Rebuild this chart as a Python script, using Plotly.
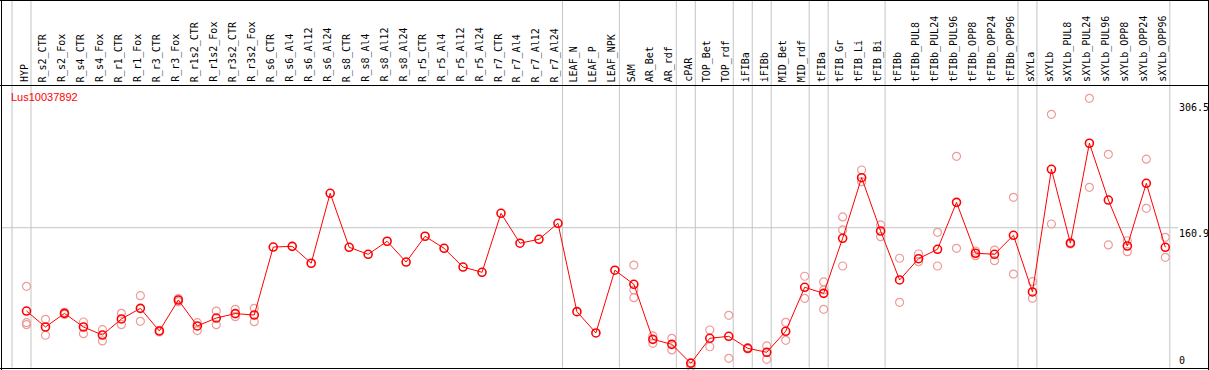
import plotly.graph_objects as go

categories = [
    "HYP", "R_s2_CTR", "R_s2_Fox", "R_s4_CTR", "R_s4_Fox", "R_r1_CTR", "R_r1_Fox",
    "R_r3_CTR", "R_r3_Fox", "R_r1s2_CTR", "R_r1s2_Fox", "R_r3s2_CTR", "R_r3s2_Fox",
    "R_s6_CTR", "R_s6_Al4", "R_s6_Al12", "R_s6_Al24", "R_s8_CTR", "R_s8_Al4",
    "R_s8_Al12", "R_s8_Al24", "R_r5_CTR", "R_r5_Al4", "R_r5_Al12", "R_r5_Al24",
    "R_r7_CTR", "R_r7_Al4", "R_r7_Al12", "R_r7_Al24", "LEAF_N", "LEAF_P", "LEAF_NPK",
    "SAM", "AR_Bet", "AR_rdf", "cPAR", "TOP_Bet", "TOP_rdf", "iFIBa", "iFIBb",
    "MID_Bet", "MID_rdf", "tFIBa", "tFIB_Gr", "tFIB_Li", "tFIB_Bi", "tFIBb",
    "tFIBb_PUL8", "tFIBb_PUL24", "tFIBb_PUL96", "tFIBb_OPP8", "tFIBb_OPP24",
    "tFIBb_OPP96", "sXYLa", "sXYLb", "sXYLb_PUL8", "sXYLb_PUL24", "sXYLb_PUL96",
    "sXYLb_OPP8", "sXYLb_OPP24", "sXYLb_OPP96",
]

# sizes of the sample groups separated by vertical grey lines
group_sizes = [1, 28, 3, 3, 1, 2, 1, 1, 2, 1, 3, 7, 1, 7]

mean_values = [
    64.3, 45.8, 61.6, 45.8, 36.5, 55.1, 67.4, 41.2, 77.1, 47.0, 56.2, 61.3, 59.7,
    138.5, 139.3, 119.7, 200.8, 138.2, 130.1, 145.2, 121.1, 151.0, 137.0, 115.3, 109.2,
    177.6, 142.9, 147.5, 166.0, 63.6, 38.9, 111.6,
    95.3, 31.5, 25.7, 3.7, 32.7, 35.0, 21.1, 16.5, 40.8, 91.8,
    84.8, 148.6, 218.9, 157.1, 100.3, 125.0, 135.9, 190.3, 131.3, 130.1, 152.1,
    86.4, 228.6, 142.9, 258.8, 193.0, 139.7, 212.4, 138.2,
]

rep1 = [
    93.0, 54.7, 60.4, 51.6, 42.7, 61.6, 82.1, 40.1, 75.2, 50.8, 64.3, 66.3, 67.4,
    None, None, None, None, None, None, None, None, None, None, None, None,
    None, None, None, None, None, None, None,
    117.6, 35.4, 32.7, 4.4, 42.3, 59.3, 20.3, 23.8, 51.2, 104.6,
    98.0, 173.4, 227.8, 164.1, 125.5, 130.4, 155.6, 243.7, 133.9, 135.0, 196.1,
    98.3, 292.4, 142.0, 310.9, 246.0, 145.8, 240.3, 149.8,
]
rep2 = [
    50.8, 36.2, 62.8, 38.1, 29.6, 48.5, 52.4, 42.0, 78.7, 41.6, 48.5, 57.8, 52.0,
    None, None, None, None, None, None, None, None, None, None, None, None,
    None, None, None, None, None, None, None,
    88.7, 26.9, 19.2, 0.0, 22.9, 9.5, 21.8, 8.3, 30.4, 79.0,
    88.7, 158.3, 214.3, 150.5, 74.4, 121.5, 116.5, 137.0, 128.5, 122.7, 107.2,
    79.0, 165.2, 143.9, 207.7, 140.9, 133.1, 183.4, 126.6,
]
rep3 = [
    48.5, None, None, None, None, None, None, None, None, None, None, None, None,
    None, None, None, None, None, None, None, None, None, None, None, None,
    None, None, None, None, None, None, None,
    79.8, None, None, None, None, None, None, None, None, None,
    66.3, 116.5, None, None, None, None, None, None, None, None, None,
    None, None, None, None, None, None, None, None,
]

gene_name = "Lus10037892"
axis_ticks = [0, 160.9, 306.5]
axis_ticktext = ["0", "160.9", "306.5"]

# ---------------------------------------------------------------
W, H = 1209, 370
ML, MR, MT, MB = 1, 32, 85, 2
PW, PH = W - ML - MR, H - MT - MB
STEP = 18.98
X0 = -(26.5 - ML) / STEP
X1 = X0 + PW / STEP
Y_SCALE = 0.8626
Y_ZERO_PIX = 366.5
Y_TOP = (Y_ZERO_PIX - MT) / Y_SCALE
Y_BOT = (Y_ZERO_PIX - (H - MB)) / Y_SCALE


def px_x(p):
    return (p - ML) / PW


def px_y(p):
    return 1 - (p - MT) / PH


fig = go.Figure()

rx, ry = [], []
for reps in (rep1, rep2, rep3):
    for c, v in zip(categories, reps):
        if v is not None:
            rx.append(c)
            ry.append(v)

fig.add_trace(go.Scatter(
    x=rx, y=ry, mode="markers",
    marker=dict(symbol="circle-open", size=8, color="#F09A9A", line=dict(width=1.2)),
    hoverinfo="skip", showlegend=False, cliponaxis=False,
))
fig.add_trace(go.Scatter(
    x=categories, y=mean_values, mode="lines+markers",
    line=dict(color="#FF0000", width=1),
    marker=dict(symbol="circle-open", size=8, color="#FF0000", line=dict(width=1.6)),
    showlegend=False, cliponaxis=False,
))

shapes = []
# group separator lines
bounds = [-1]
acc = -1
for g in group_sizes:
    acc += g
    bounds.append(acc)
for b in bounds:
    shapes.append(dict(type="line", xref="x", yref="paper", x0=b + 4.5 / STEP, x1=b + 4.5 / STEP,
                       y0=px_y(367.5), y1=px_y(0), line=dict(color="#C4C4C4", width=1), layer="below"))
# horizontal reference line
shapes.append(dict(type="line", xref="paper", yref="y", x0=px_x(1), x1=px_x(1178),
                   y0=axis_ticks[1], y1=axis_ticks[1], line=dict(color="#C4C4C4", width=1), layer="below"))
# frame
blk = dict(color="#000000", width=1)
shapes += [
    dict(type="line", xref="paper", yref="paper", x0=px_x(0), x1=px_x(1209), y0=px_y(0.5), y1=px_y(0.5), line=blk),
    dict(type="line", xref="paper", yref="paper", x0=px_x(0), x1=px_x(1209), y0=px_y(85.5), y1=px_y(85.5), line=blk),
    dict(type="line", xref="paper", yref="paper", x0=px_x(0), x1=px_x(1209), y0=px_y(368.5), y1=px_y(368.5), line=blk),
    dict(type="line", xref="paper", yref="paper", x0=px_x(1.5), x1=px_x(1.5), y0=px_y(0), y1=px_y(370), line=blk),
    dict(type="line", xref="paper", yref="paper", x0=px_x(1208.5), x1=px_x(1208.5), y0=px_y(0), y1=px_y(370), line=blk),
]

annotations = []
for c in categories:
    annotations.append(dict(
        x=c, xref="x", y=1, yref="paper", text=c, showarrow=False, textangle=-90,
        xanchor="center", yanchor="bottom", xshift=-2.5, yshift=1,
        font=dict(family="DejaVu Sans Mono", size=10, color="#000000"),
    ))
annotations.append(dict(
    x=px_x(9), xref="paper", y=px_y(97), yref="paper", text=gene_name, showarrow=False,
    xanchor="left", yanchor="middle", font=dict(family="Liberation Sans", size=11, color="#FF0000"),
))
for v, t in zip(axis_ticks, axis_ticktext):
    annotations.append(dict(
        x=px_x(1177), xref="paper", y=v, yref="y", text=t, showarrow=False,
        xanchor="left", yanchor="bottom" if v == 0 else "top",
        yshift=-1 if v == 0 else 2,
        font=dict(family="DejaVu Sans Mono", size=10, color="#000000"),
    ))

fig.update_layout(
    width=W, height=H, margin=dict(l=ML, r=MR, t=MT, b=MB, pad=0),
    paper_bgcolor="white", plot_bgcolor="white",
    xaxis=dict(type="category", categoryorder="array", categoryarray=categories,
               range=[X0, X1], visible=False, showgrid=False, zeroline=False),
    yaxis=dict(range=[Y_BOT, Y_TOP], visible=False, showgrid=False, zeroline=False),
    shapes=shapes, annotations=annotations,
)

fig.write_html(
    "out.html",
    config={"displayModeBar": False},
    post_script="document.body.style.margin='0';document.body.style.overflow='hidden';",
)
